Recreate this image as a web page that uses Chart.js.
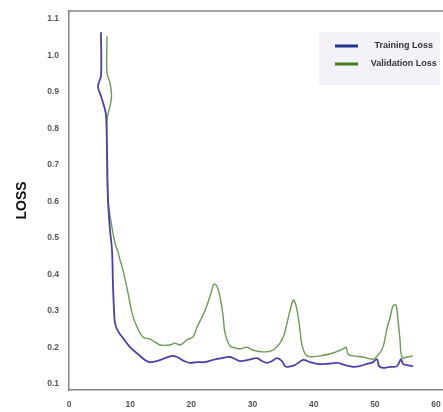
<!DOCTYPE html>
<html>
<head>
<meta charset="utf-8">
<script src="https://cdn.jsdelivr.net/npm/chart.js@4"></script>
<style>
  html, body { margin: 0; padding: 0; background: #ffffff; }
  #wrap { width: 443px; height: 412px; }
</style>
</head>
<body>
<div id="wrap"><canvas id="c" width="443" height="412"></canvas></div>
<script>
// ---- data ----
const trainEpochs = [5.23, 5.23, 4.74, 5.23, 5.72, 6.05, 6.21, 6.38, 6.70, 7.03, 7.19, 7.36, 7.52, 8.01, 8.83, 9.97,
  11.28, 12.42, 13.24, 14.39, 15.69, 16.84, 17.66, 18.80, 19.78, 20.93, 22.23, 23.54, 25.01, 26.32, 27.95,
  29.26, 30.73, 31.55, 32.37, 33.19, 34.00, 34.82, 35.31, 35.80, 36.95, 38.25, 39.40, 40.54, 42.18, 43.81,
  45.12, 46.43, 47.57, 48.72, 49.70, 50.35, 50.68, 51.33, 52.48, 53.62, 54.27, 54.60, 55.26, 56.24];
const trainLoss = [1.064, 0.944, 0.916, 0.889, 0.862, 0.837, 0.741, 0.604, 0.522, 0.467, 0.371, 0.303, 0.267, 0.245, 0.226, 0.201,
  0.182, 0.166, 0.160, 0.163, 0.171, 0.177, 0.174, 0.163, 0.158, 0.160, 0.160, 0.166, 0.171, 0.174, 0.163,
  0.166, 0.171, 0.163, 0.158, 0.163, 0.171, 0.163, 0.149, 0.147, 0.152, 0.166, 0.160, 0.155, 0.155, 0.158,
  0.152, 0.147, 0.149, 0.155, 0.160, 0.168, 0.149, 0.144, 0.147, 0.149, 0.168, 0.155, 0.152, 0.149];

const valEpochs = [6.21, 6.21, 6.70, 6.95, 6.54, 6.21, 6.21, 6.38, 6.87, 7.52, 8.01, 8.34, 8.83, 9.65, 10.30, 11.12,
  12.10, 13.24, 14.06, 14.88, 16.51, 17.33, 18.15, 19.29, 20.27, 20.93, 21.91, 22.56, 23.38, 23.70, 24.19,
  24.69, 25.18, 25.50, 26.32, 27.14, 27.95, 29.10, 30.08, 31.71, 33.35, 34.49, 35.15, 35.64, 36.46, 36.78,
  37.27, 37.76, 38.09, 38.91, 41.03, 43.16, 44.79, 45.28, 45.61, 46.43, 48.06, 49.70, 50.51, 51.33, 51.99,
  52.48, 52.97, 53.46, 53.78, 54.11, 54.27, 54.60, 55.26, 56.24];
const valLoss = [1.053, 0.952, 0.925, 0.886, 0.851, 0.823, 0.714, 0.604, 0.544, 0.486, 0.462, 0.440, 0.412, 0.349, 0.295, 0.256,
  0.229, 0.223, 0.215, 0.207, 0.207, 0.212, 0.207, 0.221, 0.229, 0.256, 0.289, 0.316, 0.358, 0.374, 0.368,
  0.338, 0.289, 0.240, 0.204, 0.199, 0.196, 0.201, 0.193, 0.188, 0.193, 0.212, 0.234, 0.267, 0.322, 0.330,
  0.303, 0.248, 0.207, 0.177, 0.177, 0.185, 0.196, 0.201, 0.182, 0.177, 0.174, 0.168, 0.179, 0.201, 0.253,
  0.281, 0.314, 0.316, 0.275, 0.221, 0.185, 0.171, 0.174, 0.177];

const seriesNames = ['Training Loss', 'Validation Loss'];
const xTicks = [0, 10, 20, 30, 40, 50, 60];
const yTicks = [0.1, 0.2, 0.3, 0.4, 0.5, 0.6, 0.7, 0.8, 0.9, 1.0, 1.1];
const yTitle = 'LOSS';

// ---- build chart ----
const toPoints = (xs, ys) => xs.map((x, i) => ({ x: x, y: ys[i] }));

const frameColor = '#858585';
const tickFont = { family: '"Liberation Sans", Arial, sans-serif', size: 8.5, weight: 'bold' };

const framePlugin = {
  id: 'frameAndLegendBg',
  afterLayout(chart) {
    const lg = chart.legend;
    if (lg) {
      lg.left = 326; lg.top = 32.5; lg.right = 445; lg.bottom = 86;
      lg.width = lg.right - lg.left; lg.height = lg.bottom - lg.top;
    }
  },
  beforeDraw(chart) {
    const ctx = chart.ctx;
    ctx.save();
    ctx.fillStyle = '#f4f1f8';
    ctx.fillRect(319, 32, 121, 53);
    ctx.restore();
  },
  afterDraw(chart) {
    const { ctx, chartArea } = chart;
    ctx.save();
    ctx.strokeStyle = frameColor;
    ctx.lineWidth = 1.5;
    ctx.beginPath();
    ctx.moveTo(chartArea.left, chartArea.top);
    ctx.lineTo(chartArea.right, chartArea.top);
    ctx.stroke();
    ctx.restore();
  }
};

new Chart(document.getElementById('c'), {
  type: 'line',
  data: {
    datasets: [
      {
        label: seriesNames[0],
        data: toPoints(trainEpochs, trainLoss),
        borderColor: '#4f3fa6',
        borderWidth: 1.8,
        pointRadius: 0,
        tension: 0.35,
        fill: false
      },
      {
        label: seriesNames[1],
        data: toPoints(valEpochs, valLoss),
        borderColor: '#6a9c52',
        borderWidth: 1.4,
        pointRadius: 0,
        tension: 0.35,
        fill: false
      }
    ]
  },
  options: {
    responsive: false,
    animation: false,
    devicePixelRatio: 1,
    layout: { padding: { left: 0, right: 0, top: 11, bottom: 0 } },
    scales: {
      x: {
        type: 'linear',
        min: 0,
        max: 61.14,
        afterBuildTicks: (scale) => { scale.ticks = xTicks.map(v => ({ value: v })); },
        afterFit: (scale) => { scale.height = 22; scale.paddingLeft = 0; scale.paddingRight = 0; },
        grid: { display: true, drawOnChartArea: false, drawTicks: false },
        border: { display: true, color: frameColor, width: 1.5 },
        ticks: {
          color: '#555555',
          font: tickFont,
          padding: 10,
          maxRotation: 0,
          autoSkip: false,
          callback: (v) => String(v)
        }
      },
      y: {
        type: 'linear',
        min: 0.0836,
        max: 1.122,
        afterBuildTicks: (scale) => { scale.ticks = yTicks.map(v => ({ value: v })); },
        afterFit: (scale) => { scale.width = 69; scale.paddingTop = 0; scale.paddingBottom = 0; },
        grid: { display: true, drawOnChartArea: false, drawTicks: false },
        border: { display: true, color: frameColor, width: 1.5 },
        title: {
          display: true,
          text: yTitle,
          color: '#111111',
          font: { family: '"Liberation Sans", Arial, sans-serif', size: 14, weight: 'bold' },
          padding: { top: 14, bottom: 0 }
        },
        ticks: {
          color: '#555555',
          font: tickFont,
          padding: 10,
          autoSkip: false,
          callback: (v) => Number(v).toFixed(1)
        }
      }
    },
    plugins: {
      tooltip: { enabled: false },
      legend: {
        display: true,
        position: 'chartArea',
        align: 'start',
        labels: {
          boxWidth: 23,
          boxHeight: 3,
          padding: 9,
          textAlign: 'center',
          color: '#333333',
          font: { family: '"Liberation Sans", Arial, sans-serif', size: 9, weight: 'bold' },
          generateLabels: () => [
            { text: seriesNames[0], fillStyle: '#22328f', strokeStyle: '#22328f', lineWidth: 0, hidden: false, datasetIndex: 0, fontColor: '#333333' },
            { text: seriesNames[1], fillStyle: '#3f7d22', strokeStyle: '#3f7d22', lineWidth: 0, hidden: false, datasetIndex: 1, fontColor: '#333333' }
          ]
        }
      }
    }
  },
  plugins: [framePlugin]
});
</script>
</body>
</html>
